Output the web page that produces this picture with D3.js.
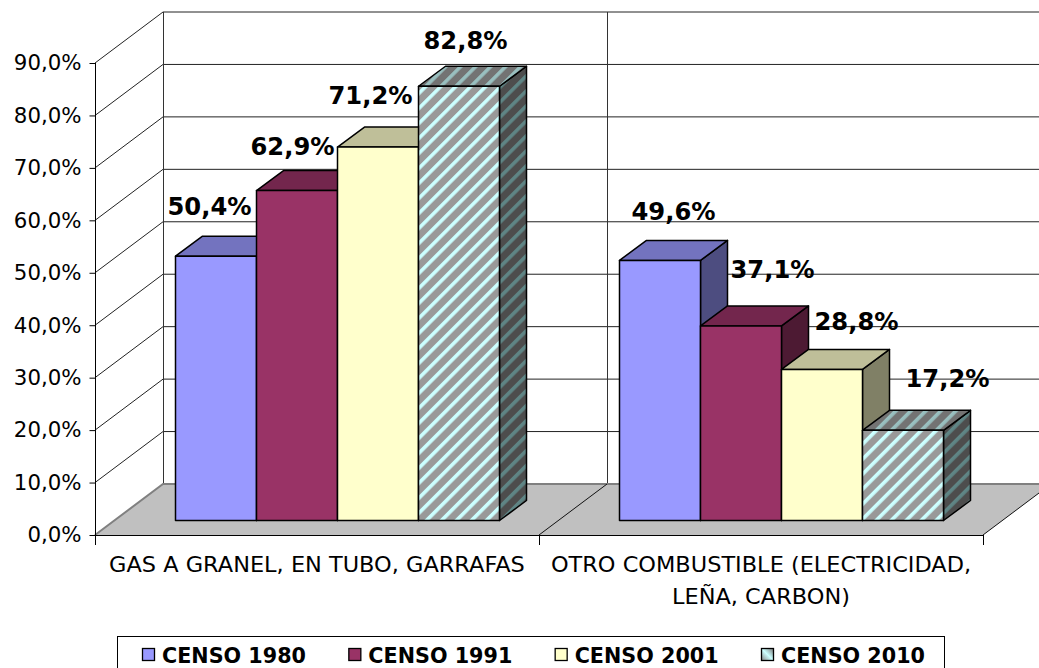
<!DOCTYPE html>
<html><head><meta charset="utf-8">
<script src="https://cdn.jsdelivr.net/npm/d3@7"></script>
<style>html,body{margin:0;background:#fff}svg{display:block}text{font-family:"DejaVu Sans",sans-serif;fill:#000}</style>
</head><body><svg id="c" width="1039" height="668"></svg>
<script>
const categories=[["GAS A GRANEL, EN TUBO, GARRAFAS"],["OTRO COMBUSTIBLE (ELECTRICIDAD,","LEÑA, CARBON)"]];
const seriesNames=["CENSO 1980","CENSO 1991","CENSO 2001","CENSO 2010"];
const gasValues=[50.4,62.9,71.2,82.8];
const otroValues=[49.6,37.1,28.8,17.2];
const yTicks=[0,10,20,30,40,50,60,70,80,90];
const frontColors=["#9999FF","#993366","#FFFFCC",null];
const sideColors=["#4D4D80","#4D1A33","#808066",null];
const topColors=["#7373BF","#73264D","#BFBF99",null];
const labelNudgeGas=[[34,49],[36,44],[33,51],[47,45]];
const labelNudgeOtro=[[54,48],[72,56],[75,47],[85,51]];

const svg=d3.select("#c");
const W=[95,983],Y0=535,Y90=63,DX=68,DY=-51,barShiftX=20.5,barShiftY=-14.5,barDX=27,barDY=-20;
const y=d3.scaleLinear().domain([0,90]).range([Y0,Y90]);
const x0=d3.scaleBand().domain([0,1]).range(W);
const x1=d3.scaleBand().domain(d3.range(4)).range([0,324]);
const barX=(g,s)=>x0(g)+x0.bandwidth()/2-162+barShiftX+x1(s);

const defs=svg.append("defs");
function hatch(id,bg,fg){
  const p=defs.append("pattern").attr("id",id).attr("patternUnits","userSpaceOnUse")
    .attr("width",10.6).attr("height",10.6).attr("patternTransform","rotate(45)");
  p.append("rect").attr("width",10.6).attr("height",10.6).attr("fill",bg);
  p.append("rect").attr("width",3.6).attr("height",10.6).attr("fill",fg);
}
hatch("hF","#999999","#CCFFFF");
hatch("hS","#4D4D4D","#5F8585");
hatch("hT","#737373","#99BFBF");
const leg=defs.append("linearGradient").attr("id","lg").attr("x1",0).attr("y1",1).attr("x2",1).attr("y2",0);
leg.append("stop").attr("offset","0").attr("stop-color","#888");
leg.append("stop").attr("offset","0.5").attr("stop-color","#CFF");
leg.append("stop").attr("offset","1").attr("stop-color","#777");

const line=d3.line();
svg.append("path").attr("d",line([[W[0],Y0],[W[0]+DX,Y0+DY],[W[1]+DX,Y0+DY],[W[1],Y0]])+"Z").attr("fill","#C0C0C0");
const g=svg.append("g");
yTicks.forEach(t=>{
  if(t>0){
    g.append("path").attr("d",line([[W[0],y(t)],[W[0]+DX,y(t)+DY],[W[1]+DX,y(t)+DY]])).attr("fill","none").attr("stroke","#222");
  }
});
g.append("line").attr("x1",W[0]+DX+.5).attr("x2",W[0]+DX+.5).attr("y1",y(90)+DY).attr("y2",Y0+DY).attr("stroke","#333");
g.append("line").attr("x1",x0(1)+DX+.5).attr("x2",x0(1)+DX+.5).attr("y1",y(90)+DY).attr("y2",Y0+DY).attr("stroke","#333");
g.append("path").attr("d",line([[W[0],Y0],[W[0]+DX,Y0+DY],[W[1]+DX,Y0+DY]])).attr("fill","none").attr("stroke","#808080").attr("stroke-width",2);
g.append("line").attr("x1",x0(1)).attr("y1",Y0).attr("x2",x0(1)+DX).attr("y2",Y0+DY).attr("stroke","#111");
g.append("line").attr("x1",W[1]).attr("y1",Y0).attr("x2",W[1]+DX).attr("y2",Y0+DY).attr("stroke","#111");

const fmt=d3.formatLocale({decimal:",",thousands:".",grouping:[3],currency:["",""]}).format(".1f");
const ax=svg.append("g").attr("transform",`translate(${W[0]+.5},0)`)
  .call(d3.axisLeft(y).tickValues(yTicks).tickFormat(d=>fmt(d)+"%").tickSize(6).tickPadding(8));
ax.selectAll("text").attr("font-size",21.3).style("font-family",'"DejaVu Sans"');
ax.selectAll("line,path").attr("stroke","#000");
ax.select(".domain").attr("d",`M0,${Y90}V${Y0+6}`);
svg.append("line").attr("x1",W[0]).attr("x2",W[1]).attr("y1",Y0+.5).attr("y2",Y0+.5).attr("stroke","#000");
[W[0],x0(1),W[1]].forEach(v=>svg.append("line").attr("x1",v+.5).attr("x2",v+.5).attr("y1",Y0).attr("y2",Y0+10).attr("stroke","#000"));
categories.forEach((lines,i)=>lines.forEach((t,j)=>{
  const el=svg.append("text").attr("x",x0(i)+x0.bandwidth()/2).attr("y",572+j*32).attr("text-anchor","middle").attr("font-size",22).text(t);
  el.attr("textLength",el.node().getComputedTextLength()*1.02).attr("lengthAdjust","spacingAndGlyphs");
}));

[gasValues,otroValues].forEach((vals,gi)=>{
  vals.forEach((v,s)=>{
    const xl=barX(gi,s),xr=xl+x1.bandwidth(),yt=y(v)+barShiftY,yb=Y0+barShiftY;
    const b=svg.append("g").attr("stroke","#000").attr("stroke-width",1.5).attr("stroke-linejoin","round");
    b.append("path").attr("d",line([[xr,yt],[xr+barDX,yt+barDY],[xr+barDX,yb+barDY],[xr,yb]])+"Z").attr("fill",sideColors[s]||"url(#hS)");
    b.append("path").attr("d",line([[xl,yt],[xl+barDX,yt+barDY],[xr+barDX,yt+barDY],[xr,yt]])+"Z").attr("fill",topColors[s]||"url(#hT)");
    b.append("rect").attr("x",xl).attr("y",yt).attr("width",xr-xl).attr("height",yb-yt).attr("fill",frontColors[s]||"url(#hF)");
  });
});
[[gasValues,labelNudgeGas],[otroValues,labelNudgeOtro]].forEach(([vals,nudge],gi)=>{
  vals.forEach((v,s)=>{
    svg.append("text").attr("x",barX(gi,s)+nudge[s][0]).attr("y",y(v)+barShiftY-nudge[s][1]+8)
      .attr("text-anchor","middle").attr("font-size",24).attr("font-weight","bold")
      .style("font-family",'"DejaVu Sans Condensed"').attr("textLength",84).attr("lengthAdjust","spacingAndGlyphs")
      .text(fmt(v)+"%");
  });
});
svg.append("rect").attr("x",117.5).attr("y",636.5).attr("width",827).attr("height",40).attr("fill","#fff").attr("stroke","#000");
const legX=d3.scalePoint().domain(seriesNames).range([142,761]);
seriesNames.forEach((n,i)=>{
  const X=legX(n);
  svg.append("rect").attr("x",X+.5).attr("y",648.5).attr("width",12).attr("height",12).attr("stroke","#000").attr("stroke-width",1.3).attr("fill",frontColors[i]||"url(#lg)");
  svg.append("text").attr("x",X+20).attr("y",662.5).attr("font-size",21).attr("font-weight","bold").attr("textLength",144).attr("lengthAdjust","spacingAndGlyphs").text(n);
});
</script></body></html>
